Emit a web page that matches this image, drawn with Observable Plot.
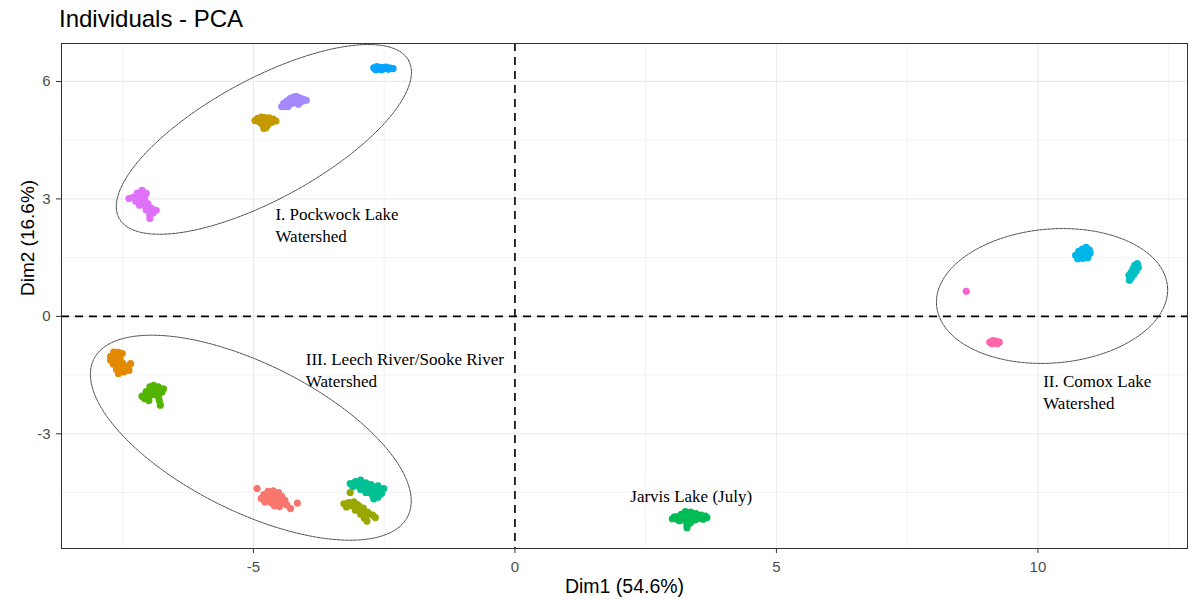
<!DOCTYPE html>
<html><head><meta charset="utf-8">
<script src="https://cdn.jsdelivr.net/npm/d3@7"></script>
<script src="https://cdn.jsdelivr.net/npm/@observablehq/plot@0.6"></script>
<style>
html,body{margin:0;padding:0;background:#fff;}
#title{box-sizing:border-box;height:38px;padding:7px 0 0 59px;font:24px/24px "Liberation Sans",Arial,sans-serif;color:#000;white-space:nowrap;}
#chart svg{display:block;}
</style></head><body>
<div id="title">Individuals - PCA</div>
<div id="chart"></div>
<script>
// ---- data (Dim1, Dim2) per sample group ----
const pockwockBlue = [[-2.70,6.35],[-2.64,6.38],[-2.62,6.32],[-2.56,6.36],[-2.50,6.33],[-2.46,6.37],[-2.42,6.31],[-2.38,6.34],[-2.33,6.33],[-2.66,6.30],[-2.55,6.30],[-2.60,6.34],[-2.52,6.35],[-2.44,6.34],[-2.68,6.33]];
const pockwockPurple = [[-4.46,5.36],[-4.42,5.44],[-4.36,5.50],[-4.30,5.56],[-4.24,5.60],[-4.18,5.62],[-4.12,5.58],[-4.05,5.55],[-3.99,5.52],[-4.10,5.48],[-4.22,5.48],[-4.32,5.42],[-4.40,5.36],[-4.14,5.42],[-4.28,5.50],[-4.36,5.42],[-4.26,5.44],[-4.18,5.52],[-4.06,5.50],[-4.34,5.36]];
const pockwockGold = [[-4.97,5.00],[-4.92,5.06],[-4.85,5.09],[-4.78,5.08],[-4.70,5.07],[-4.62,5.04],[-4.57,4.99],[-4.65,4.96],[-4.75,4.94],[-4.88,4.96],[-4.82,4.88],[-4.76,4.82],[-4.72,4.90],[-4.80,4.80],[-4.90,5.02],[-4.80,5.02],[-4.70,5.00],[-4.62,5.00],[-4.85,4.94],[-4.78,4.88]];
const pockwockMagenta = [[-7.13,3.22],[-7.22,3.15],[-7.05,3.14],[-7.38,3.01],[-7.30,3.04],[-7.18,3.05],[-7.08,3.02],[-7.25,2.94],[-7.12,2.92],[-7.02,2.88],[-7.18,2.84],[-7.06,2.80],[-6.95,2.76],[-6.86,2.71],[-6.98,2.68],[-7.05,2.72],[-6.98,2.58],[-6.98,2.50],[-6.92,2.64],[-7.15,3.10],[-7.10,2.98],[-7.00,2.80]];
const leechOrange = [[-7.67,-0.91],[-7.58,-0.92],[-7.51,-0.95],[-7.73,-1.02],[-7.73,-1.12],[-7.62,-1.05],[-7.55,-1.10],[-7.68,-1.22],[-7.60,-1.25],[-7.50,-1.20],[-7.35,-1.21],[-7.62,-1.35],[-7.52,-1.32],[-7.40,-1.33],[-7.38,-1.38],[-7.48,-1.42],[-7.58,-1.46],[-7.65,-1.15],[-7.56,-1.18],[-7.45,-1.28],[-7.66,-0.98]];
const leechGreen = [[-6.91,-1.76],[-6.98,-1.80],[-6.82,-1.80],[-6.72,-1.85],[-7.05,-1.92],[-6.95,-1.90],[-6.85,-1.92],[-6.75,-1.93],[-7.13,-2.04],[-7.08,-2.10],[-7.00,-2.05],[-6.90,-2.00],[-6.82,-2.05],[-7.00,-2.15],[-6.80,-2.15],[-6.78,-2.27],[-6.88,-1.86],[-6.95,-1.98],[-6.80,-1.98],[-7.05,-2.00]];
const leechSalmon = [[-4.93,-4.40],[-4.72,-4.47],[-4.62,-4.46],[-4.52,-4.50],[-4.80,-4.55],[-4.68,-4.55],[-4.56,-4.57],[-4.46,-4.60],[-4.85,-4.65],[-4.74,-4.64],[-4.62,-4.66],[-4.50,-4.68],[-4.40,-4.70],[-4.78,-4.74],[-4.66,-4.76],[-4.55,-4.75],[-4.44,-4.78],[-4.60,-4.84],[-4.50,-4.86],[-4.16,-4.77],[-4.29,-4.91],[-4.36,-4.82],[-4.70,-4.60],[-4.58,-4.62],[-4.66,-4.70],[-4.56,-4.70],[-4.48,-4.72]];
const leechTeal = [[-3.15,-4.27],[-3.05,-4.22],[-2.95,-4.18],[-2.85,-4.25],[-2.75,-4.30],[-2.62,-4.33],[-2.51,-4.40],[-3.10,-4.35],[-3.00,-4.33],[-2.90,-4.38],[-2.80,-4.42],[-2.68,-4.45],[-2.55,-4.52],[-2.85,-4.50],[-2.72,-4.58],[-2.62,-4.62],[-2.70,-4.66],[-2.58,-4.55],[-3.00,-4.28],[-2.90,-4.30],[-2.80,-4.34],[-2.70,-4.38],[-2.62,-4.42],[-2.95,-4.42],[-2.78,-4.50],[-2.65,-4.52],[-2.60,-4.48]];
const leechOlive = [[-3.27,-4.79],[-3.18,-4.76],[-3.08,-4.74],[-3.22,-4.87],[-3.10,-4.85],[-2.98,-4.85],[-3.05,-4.95],[-2.92,-4.95],[-2.82,-5.00],[-2.95,-5.05],[-2.85,-5.10],[-2.72,-5.08],[-2.67,-5.14],[-2.83,-5.23],[-3.15,-4.50],[-3.15,-4.80],[-3.02,-4.80],[-2.90,-4.90],[-2.80,-5.04],[-2.88,-5.16]];
const jarvisGreen = [[3.01,-5.17],[3.10,-5.12],[3.18,-5.06],[3.26,-4.99],[3.36,-5.00],[3.46,-5.04],[3.56,-5.08],[3.67,-5.14],[3.12,-5.20],[3.22,-5.16],[3.32,-5.12],[3.42,-5.14],[3.52,-5.16],[3.60,-5.18],[3.28,-5.24],[3.38,-5.22],[3.29,-5.32],[3.29,-5.40],[3.05,-5.12],[3.20,-5.10],[3.30,-5.05],[3.40,-5.08],[3.50,-5.10],[3.64,-5.10],[3.15,-5.22],[3.45,-5.20],[3.35,-5.28]];
const comoxBlue = [[10.78,1.66],[10.85,1.72],[10.92,1.76],[10.98,1.70],[11.00,1.62],[10.72,1.56],[10.82,1.58],[10.92,1.60],[10.76,1.47],[10.86,1.48],[10.95,1.50],[10.86,1.54],[10.90,1.66],[10.80,1.62],[10.96,1.56]];
const comoxTeal = [[11.90,1.35],[11.85,1.30],[11.92,1.25],[11.82,1.22],[11.88,1.16],[11.78,1.12],[11.84,1.08],[11.74,1.05],[11.78,0.98],[11.75,0.92],[11.86,1.20],[11.80,1.03]];
const comoxPinkSmall = [[8.63,0.64]];
const comoxPink = [[9.08,-0.66],[9.14,-0.62],[9.20,-0.63],[9.26,-0.66],[9.12,-0.70],[9.22,-0.70]];

const groupNames = ["Pockwock A","Pockwock B","Pockwock C","Pockwock D","Leech A","Leech B","Leech C","Leech D","Leech E","Jarvis","Comox A","Comox B","Comox C","Comox D"];
const groupPoints = [pockwockBlue,pockwockPurple,pockwockGold,pockwockMagenta,leechOrange,leechGreen,leechSalmon,leechTeal,leechOlive,jarvisGreen,comoxBlue,comoxTeal,comoxPinkSmall,comoxPink];
const groupColors = ["#06A4FF","#A58AFF","#C49A00","#DF70F8","#E38900","#53B400","#F8766D","#00C094","#99A800","#00BC56","#00B6EB","#00BFC4","#FB61D7","#FF66A8"];

// ellipses (center and conjugate semi-axes, data units)
const ellipseNames = ["I","II","III"];
const ellipseCX = [-4.80, 10.27, -5.05];
const ellipseCY = [4.52, 0.52, -3.10];
const ellipseMajor = [[2.768,2.015],[2.208,0.238],[3.002,-2.008]];
const ellipseMinor = [[0.549,-1.346],[0.103,-1.706],[-0.631,-1.681]];

// annotations
const labelText = ["I. Pockwock Lake\nWatershed","III. Leech River/Sooke River\nWatershed","II. Comox Lake\nWatershed","Jarvis Lake (July)"];
const labelX = [-4.58, -4.00, 10.10, 3.37];
const labelY = [2.86, -0.84, -1.40, -4.44];
const labelAlign = ["start","start","start","middle"];

// axes
const xTicks = [-5, 0, 5, 10];
const yTicks = [-3, 0, 3, 6];
const xMinor = [-7.5, -2.5, 2.5, 7.5, 12.5];
const yMinor = [-4.5, -1.5, 1.5, 4.5];
const xTitle = "Dim1 (54.6%)";
const yTitle = "Dim2 (16.6%)";

// ---- build ----
const rows = groupPoints.flatMap((pts, i) => pts.map(([x, y]) => ({group: groupNames[i], x, y})));
const ellipseRows = [];
ellipseNames.forEach((id, k) => {
  for (let s = 0; s <= 180; s++) {
    const t = (s / 180) * 2 * Math.PI;
    ellipseRows.push({
      id,
      x: ellipseCX[k] + ellipseMajor[k][0] * Math.cos(t) + ellipseMinor[k][0] * Math.sin(t),
      y: ellipseCY[k] + ellipseMajor[k][1] * Math.cos(t) + ellipseMinor[k][1] * Math.sin(t)
    });
  }
});
const labels = labelText.map((text, i) => ({text, x: labelX[i], y: labelY[i], align: labelAlign[i]}));

const chart = Plot.plot({
  width: 1190,
  height: 561,
  marginTop: 5,
  marginRight: 3,
  marginBottom: 51,
  marginLeft: 61,
  style: {fontFamily: "'Liberation Sans', Arial, sans-serif", background: "white"},
  x: {domain: [-8.67, 12.86]},
  y: {domain: [-5.93, 6.97]},
  color: {domain: groupNames, range: groupColors},
  marks: [
    Plot.ruleX(xMinor, {stroke: "#EBEBEB", strokeWidth: 0.6}),
    Plot.ruleY(yMinor, {stroke: "#EBEBEB", strokeWidth: 0.6}),
    Plot.ruleX(xTicks, {stroke: "#EBEBEB", strokeWidth: 1.2}),
    Plot.ruleY(yTicks, {stroke: "#EBEBEB", strokeWidth: 1.2}),
    Plot.ruleX([0], {stroke: "#000", strokeWidth: 1.6, strokeDasharray: "8,6"}),
    Plot.ruleY([0], {stroke: "#000", strokeWidth: 1.6, strokeDasharray: "8,6"}),
    Plot.line(ellipseRows, {x: "x", y: "y", z: "id", stroke: "#222", strokeWidth: 0.8, strokeDasharray: "3,1", curve: "linear"}),
    Plot.dot(rows, {x: "x", y: "y", fill: "group", r: 3.6}),
    Plot.text(labels.filter(d => d.align === "start"), {x: "x", y: "y", text: "text", textAnchor: "start", lineAnchor: "top", lineHeight: 1.3, fontFamily: "'Liberation Serif', 'Times New Roman', serif", fontSize: 17, fill: "#000"}),
    Plot.text(labels.filter(d => d.align === "middle"), {x: "x", y: "y", text: "text", textAnchor: "middle", lineAnchor: "top", fontFamily: "'Liberation Serif', 'Times New Roman', serif", fontSize: 17, fill: "#000"}),
    Plot.frame({stroke: "#333", strokeWidth: 1}),
    Plot.axisX(xTicks, {tickSize: 5, tickPadding: 8, tickFormat: d => String(d), fontSize: 15, label: null, fill: "#4D4D4D", stroke: "#333"}),
    Plot.axisY(yTicks, {tickSize: 5, tickPadding: 6, tickFormat: d => String(d), fontSize: 15, label: null, fill: "#4D4D4D", stroke: "#333"}),
    Plot.text([xTitle], {frameAnchor: "bottom", dy: 38, lineAnchor: "middle", fontSize: 19.5, fill: "#000"}),
    Plot.text([yTitle], {frameAnchor: "left", dx: -34, rotate: -90, lineAnchor: "middle", fontSize: 19, fill: "#000"})
  ]
});
document.getElementById("chart").appendChild(chart);
</script></body></html>
